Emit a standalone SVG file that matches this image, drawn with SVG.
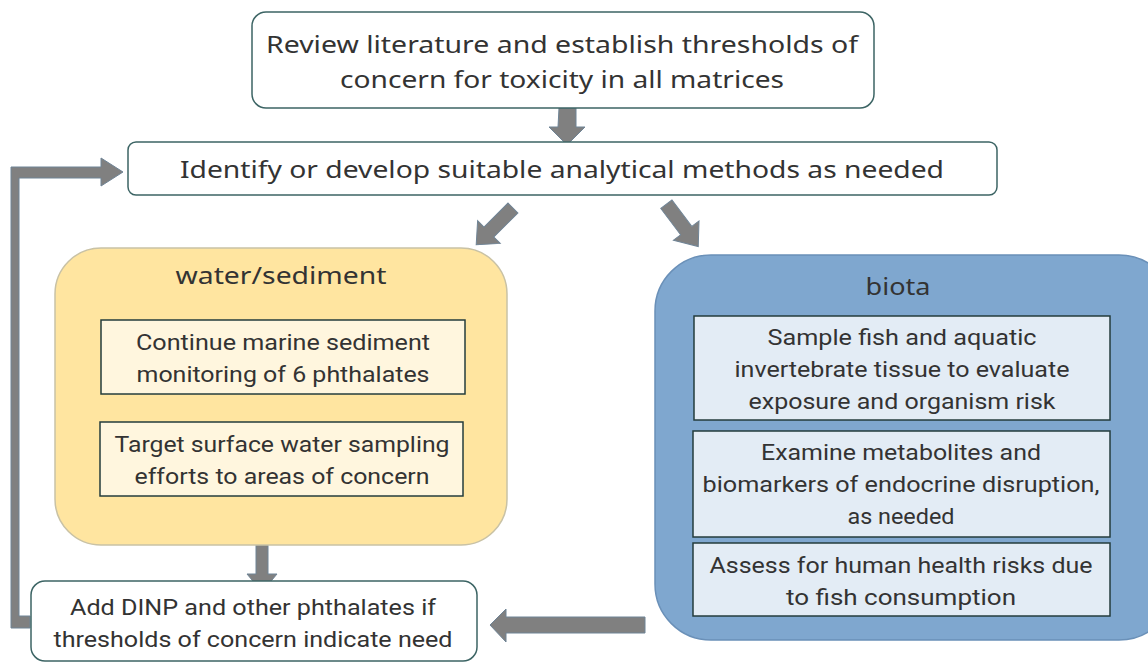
<svg xmlns="http://www.w3.org/2000/svg" width="1148" height="662" viewBox="0 0 1148 662">
<style>
.t{font-family:"Noto Sans","Open Sans",sans-serif;font-size:24px;fill:#333;text-anchor:middle}
.s{font-family:Roboto,"Liberation Sans",sans-serif;font-size:22px;fill:#333;text-anchor:middle}
.wb{fill:#fff;stroke:#3c6464;stroke-width:1.5}
.ib{stroke:#243c3c;stroke-width:1.5}
.ar{fill:#808080;stroke:#6f8496;stroke-width:1}
</style>
<rect width="1148" height="662" fill="#fff"/>
<g id="connectors">
<path class="ar" d="M559,108 H576 V127 H585 L567,145 L549,127 H558 Z"/>
<path class="ar" transform="rotate(45 496 225)" d="M489,201 H503 V235 H512 L496,253 L480,235 H489 Z"/>
<path class="ar" transform="rotate(-37 682 225)" d="M675,199 H689 V232 H698 L682,252 L666,232 H675 Z"/>
<path class="ar" d="M256,545 H268 V574 H277 L262,592 L247,574 H256 Z"/>
<path class="ar" d="M645,617 V633 H506 V642 L490,625 L506,609 V617 Z"/>
<path class="ar" d="M30,616 V628 H11 V167 H101 V158 L123,172 L101,186 V178 H19 V616 Z"/>
</g>
<g id="n-review">
<rect class="wb" x="252" y="12" width="622" height="96" rx="14"/>
<text class="t" x="562" y="53" textLength="592" lengthAdjust="spacingAndGlyphs">Review literature and establish thresholds of</text>
<text class="t" x="562" y="88" textLength="444" lengthAdjust="spacingAndGlyphs">concern for toxicity in all matrices</text>
</g>
<g id="n-identify">
<rect class="wb" x="128" y="142" width="869" height="53" rx="8"/>
<text class="t" x="562" y="178" textLength="764" lengthAdjust="spacingAndGlyphs">Identify or develop suitable analytical methods as needed</text>
</g>
<g id="n-water">
<rect x="55" y="248" width="452" height="297" rx="46" fill="#FFE5A0" stroke="#c9c2a5" stroke-width="1.5"/>
<text class="t" x="281" y="284" font-size="26" textLength="211" lengthAdjust="spacingAndGlyphs">water/sediment</text>
<g id="n-water-1">
<rect class="ib" x="101" y="320" width="364" height="74" fill="#FFF6DE"/>
<text class="s" x="283" y="350" textLength="294" lengthAdjust="spacingAndGlyphs">Continue marine sediment</text>
<text class="s" x="283" y="382" textLength="293" lengthAdjust="spacingAndGlyphs">monitoring of 6 phthalates</text>
</g>
<g id="n-water-2">
<rect class="ib" x="100" y="422" width="363" height="74" fill="#FFF6DE"/>
<text class="s" x="282" y="452" textLength="335" lengthAdjust="spacingAndGlyphs">Target surface water sampling</text>
<text class="s" x="282" y="484" textLength="295" lengthAdjust="spacingAndGlyphs">efforts to areas of concern</text>
</g>
</g>
<g id="n-biota">
<rect x="655" y="255" width="520" height="385" rx="56" fill="#7FA7CF" stroke="#6a90b8" stroke-width="1.5"/>
<text class="t" x="898" y="295" font-size="26" textLength="65" lengthAdjust="spacingAndGlyphs">biota</text>
<g id="n-biota-1">
<rect class="ib" x="694" y="316" width="416" height="104" fill="#E3ECF5"/>
<text class="s" x="902" y="345" textLength="269" lengthAdjust="spacingAndGlyphs">Sample fish and aquatic</text>
<text class="s" x="902" y="377" textLength="335" lengthAdjust="spacingAndGlyphs">invertebrate tissue to evaluate</text>
<text class="s" x="902" y="409" textLength="307" lengthAdjust="spacingAndGlyphs">exposure and organism risk</text>
</g>
<g id="n-biota-2">
<rect class="ib" x="693" y="431" width="417" height="106" fill="#E3ECF5"/>
<text class="s" x="901" y="460" textLength="280" lengthAdjust="spacingAndGlyphs">Examine metabolites and</text>
<text class="s" x="901" y="492" textLength="397" lengthAdjust="spacingAndGlyphs">biomarkers of endocrine disruption,</text>
<text class="s" x="901" y="524" textLength="107" lengthAdjust="spacingAndGlyphs">as needed</text>
</g>
<g id="n-biota-3">
<rect class="ib" x="693" y="543" width="417" height="73" fill="#E3ECF5"/>
<text class="s" x="901" y="573" textLength="383" lengthAdjust="spacingAndGlyphs">Assess for human health risks due</text>
<text class="s" x="901" y="605" textLength="230" lengthAdjust="spacingAndGlyphs">to fish consumption</text>
</g>
</g>
<g id="n-add">
<rect class="wb" x="31" y="581" width="446" height="80" rx="14"/>
<text class="s" x="253" y="615" textLength="366" lengthAdjust="spacingAndGlyphs">Add DINP and other phthalates if</text>
<text class="s" x="253" y="647" textLength="399" lengthAdjust="spacingAndGlyphs">thresholds of concern indicate need</text>
</g>
</svg>
